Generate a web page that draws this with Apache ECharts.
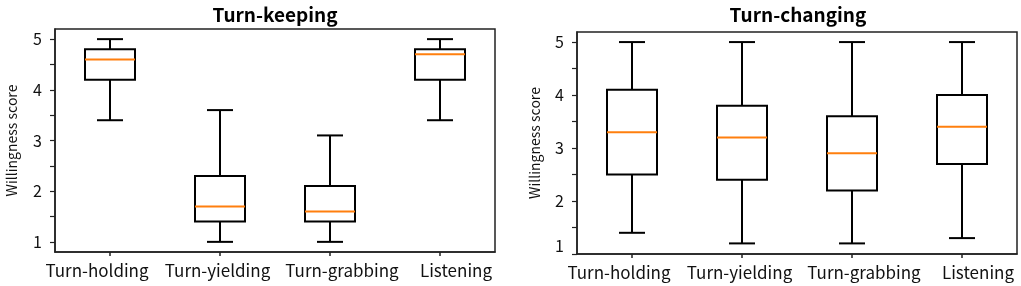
<!DOCTYPE html>
<html>
<head>
<meta charset="utf-8">
<script src="https://cdn.jsdelivr.net/npm/echarts@6/dist/echarts.min.js"></script>
<style>
html,body{margin:0;padding:0;background:#fff;}
#chart{width:1021px;height:286px;}
</style>
</head>
<body>
<div id="chart"></div>
<script>
// ---- data ----
const categories = ['Turn-holding', 'Turn-yielding', 'Turn-grabbing', 'Listening'];
// each row: [min, Q1, median, Q3, max]
const keepingStats = [
  [3.4, 4.2, 4.6, 4.8, 5.0],
  [1.0, 1.4, 1.7, 2.3, 3.6],
  [1.0, 1.4, 1.6, 2.1, 3.1],
  [3.4, 4.2, 4.7, 4.8, 5.0]
];
const changingStats = [
  [1.4, 2.5, 3.3, 4.1, 5.0],
  [1.2, 2.4, 3.2, 3.8, 5.0],
  [1.2, 2.2, 2.9, 3.6, 5.0],
  [1.3, 2.7, 3.4, 4.0, 5.0]
];
const titles = ['Turn-keeping', 'Turn-changing'];
const yName = 'Willingness score';
const yLabelValues = [1, 2, 3, 4, 5];
const yTickValues = [1, 1.5, 2, 2.5, 3, 3.5, 4, 4.5, 5];

const FONT = '"Noto Sans CJK JP", "Noto Sans", sans-serif';

function toData(stats) {
  return stats.map((s, i) => [i].concat(s));
}

function renderBox(params, api) {
  const x = api.value(0);
  const lo = api.coord([x, api.value(1)]);
  const q1 = api.coord([x, api.value(2)]);
  const md = api.coord([x, api.value(3)]);
  const q3 = api.coord([x, api.value(4)]);
  const hi = api.coord([x, api.value(5)]);
  const cx = lo[0];
  const bw = 50, cw = 26;
  const ls = { stroke: '#000', lineWidth: 2 };
  return {
    type: 'group',
    children: [
      { type: 'line', shape: { x1: cx, y1: lo[1], x2: cx, y2: q1[1] }, style: ls },
      { type: 'line', shape: { x1: cx, y1: q3[1], x2: cx, y2: hi[1] }, style: ls },
      { type: 'line', shape: { x1: cx - cw / 2, y1: lo[1], x2: cx + cw / 2, y2: lo[1] }, style: ls },
      { type: 'line', shape: { x1: cx - cw / 2, y1: hi[1], x2: cx + cw / 2, y2: hi[1] }, style: ls },
      { type: 'rect', shape: { x: cx - bw / 2, y: q3[1], width: bw, height: q1[1] - q3[1] },
        style: { fill: '#fff', stroke: '#000', lineWidth: 2 } },
      { type: 'line', shape: { x1: cx - bw / 2, y1: md[1], x2: cx + bw / 2, y2: md[1] },
        style: { stroke: '#ff7f0e', lineWidth: 2 } }
    ]
  };
}

const labelRich = {
  c0: { fontSize: 17, fontFamily: FONT, color: '#111', padding: [0, 26, 0, 0] },
  c1: { fontSize: 17, fontFamily: FONT, color: '#111', padding: [0, 5, 0, 0] },
  c2: { fontSize: 17, fontFamily: FONT, color: '#111', padding: [0, 0, 0, 24] },
  c3: { fontSize: 17, fontFamily: FONT, color: '#111', padding: [0, 0, 0, 32] }
};

function xAxis(gridIndex) {
  return {
    type: 'category', gridIndex: gridIndex, data: categories, boundaryGap: true,
    axisLine: { show: true, lineStyle: { color: '#222', width: 1.5 } },
    axisTick: { show: true, alignWithLabel: true, length: 4, lineStyle: { color: '#222', width: 1.5 } },
    axisLabel: { color: '#111', fontSize: 17, fontFamily: FONT, margin: 10, interval: 0, hideOverlap: false,
      formatter: (v, i) => '{c' + i + '|' + v + '}', rich: labelRich },
    splitLine: { show: false }
  };
}

function yAxis(gridIndex, min, max, gap) {
  return {
    type: 'value', gridIndex: gridIndex, min: min, max: max,
    name: yName, nameLocation: 'middle', nameGap: gap,
    nameTextStyle: { color: '#111', fontSize: 14, fontFamily: FONT },
    axisLine: { show: true, lineStyle: { color: '#222', width: 1.5 } },
    axisTick: { show: true, length: 5, customValues: yTickValues, lineStyle: { color: '#222', width: 1.2 } },
    axisLabel: { color: '#111', fontSize: 16, fontFamily: FONT, margin: 13, customValues: yLabelValues,
      verticalAlignMinLabel: min === 1 ? 'bottom' : 'middle' },
    splitLine: { show: false }
  };
}

const chart = echarts.init(document.getElementById('chart'), null, { renderer: 'canvas' });
chart.setOption({
  animation: false,
  backgroundColor: '#fff',
  title: [
    { text: titles[0], left: 270, top: 0, textAlign: 'center',
      textStyle: { fontSize: 19, fontWeight: 'bold', color: '#000', fontFamily: FONT } },
    { text: titles[1], left: 793, top: 0, textAlign: 'center',
      textStyle: { fontSize: 19, fontWeight: 'bold', color: '#000', fontFamily: FONT } }
  ],
  grid: [
    { left: 55, top: 29, width: 440, height: 223, show: true, borderColor: '#222', borderWidth: 1.5, backgroundColor: 'transparent' },
    { left: 577, top: 32, width: 440, height: 222, show: true, borderColor: '#222', borderWidth: 1.5, backgroundColor: 'transparent' }
  ],
  xAxis: [xAxis(0), xAxis(1)],
  yAxis: [yAxis(0, 0.8, 5.2, 36), yAxis(1, 1, 5.19, 35)],
  series: [
    { type: 'custom', xAxisIndex: 0, yAxisIndex: 0, renderItem: renderBox,
      encode: { x: 0, y: [1, 2, 3, 4, 5] }, data: toData(keepingStats), clip: false },
    { type: 'custom', xAxisIndex: 1, yAxisIndex: 1, renderItem: renderBox,
      encode: { x: 0, y: [1, 2, 3, 4, 5] }, data: toData(changingStats), clip: false }
  ]
});
</script>
</body>
</html>
